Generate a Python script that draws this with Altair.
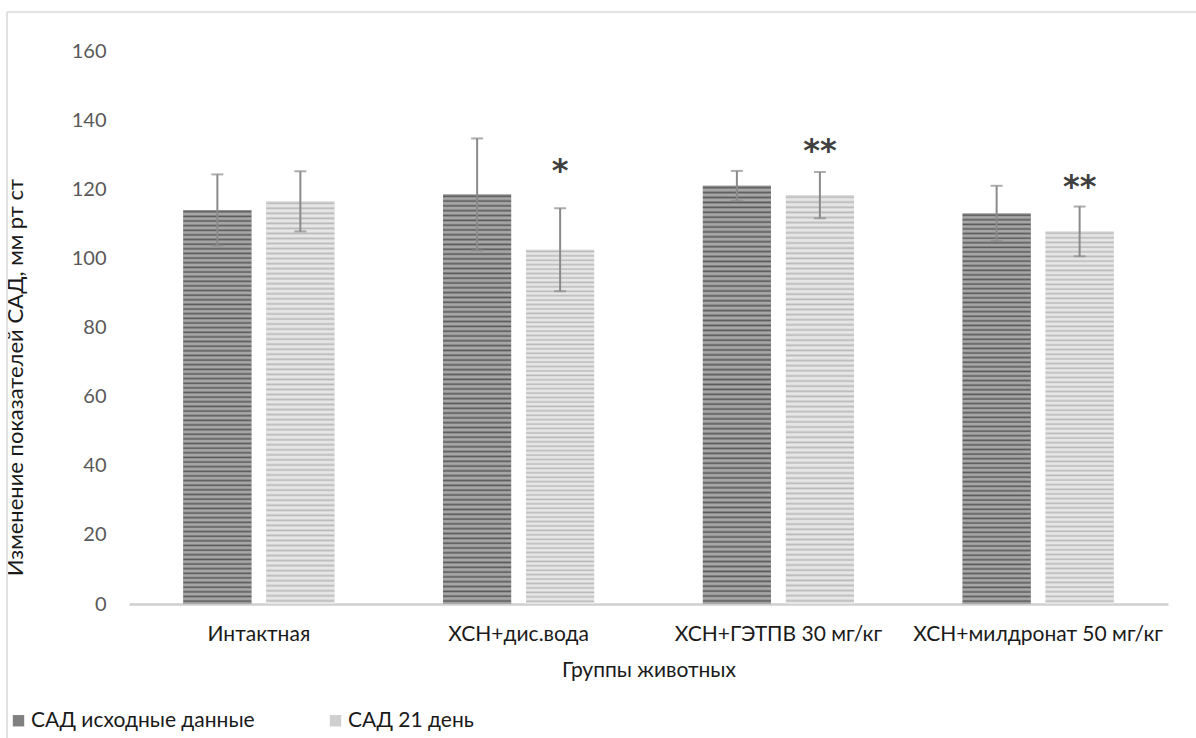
import altair as alt
import pandas as pd

# Groups of animals and the two measurement series
groups = ["Интактная", "ХСН+дис.вода", "ХСН+ГЭТПВ 30 мг/кг", "ХСН+милдронат 50 мг/кг"]
series = ["САД исходные данные", "САД 21 день"]

# Systolic blood pressure, mm Hg (mean and error)
sad_base = [114.0, 118.5, 121.0, 113.0]
sad_base_err = [10.3, 16.2, 4.3, 8.0]
sad_day21 = [116.5, 102.5, 118.3, 107.8]
sad_day21_err = [8.7, 12.0, 6.7, 7.2]

# Significance marks above the day-21 bars and their heights
sig_labels = ["", "*", "**", "**"]
sig_y = [0.0, 125.4, 131.1, 120.7]

y_ticks = [0, 20, 40, 60, 80, 100, 120, 140, 160]

rows = []
for g, v, e in zip(groups, sad_base, sad_base_err):
    rows.append({"group": g, "series": series[0], "value": v, "lo": v - e, "hi": v + e})
for g, v, e in zip(groups, sad_day21, sad_day21_err):
    rows.append({"group": g, "series": series[1], "value": v, "lo": v - e, "hi": v + e})
df = pd.DataFrame(rows)

sig_df = pd.DataFrame({
    "group": groups,
    "series": [series[1]] * len(groups),
    "label": sig_labels,
    "y": sig_y,
})
sig_df = sig_df[sig_df["label"] != ""]

FONT = "Lato"


def stripes(c_dark, c_light, n):
    stops = []
    for i in range(n):
        a = i / n
        stops += [
            alt.GradientStop(offset=a, color=c_light),
            alt.GradientStop(offset=a + 0.4 / n, color=c_dark),
            alt.GradientStop(offset=a + 0.7 / n, color=c_light),
        ]
    stops.append(alt.GradientStop(offset=1.0, color=c_light))
    return alt.LinearGradient(gradient="linear", stops=stops, x1=0, x2=0, y1=0, y2=1)


x_enc = alt.X(
    "group:N",
    sort=groups,
    title="Группы животных",
    scale=alt.Scale(paddingInner=0.4187, paddingOuter=0.2093),
    axis=alt.Axis(
        labelAngle=0,
        labelFontSize=21,
        labelLimit=0,
        labelColor="#1a1a1a",
        labelPadding=19,
        ticks=False,
        domainColor="#cfcfcf",
        domainWidth=2.5,
        titleFontSize=21,
        titleFontWeight="normal",
        titleColor="#1a1a1a",
        titlePadding=15,
    ),
)
xoff_enc = alt.XOffset(
    "series:N", sort=series, scale=alt.Scale(paddingInner=0.1807, paddingOuter=0)
)
y_scale = alt.Scale(domain=[0, 160], nice=False)

base = alt.Chart(df)

bars = base.mark_bar().encode(
    x=x_enc,
    xOffset=xoff_enc,
    y=alt.Y(
        "value:Q",
        scale=y_scale,
        title="Изменение показателей САД, мм рт ст",
        axis=alt.Axis(
            values=y_ticks,
            grid=False,
            domain=False,
            ticks=False,
            labelFontSize=20,
            labelColor="#595959",
            labelPadding=23,
            titleFontSize=22,
            titleFontWeight="normal",
            titleColor="#1a1a1a",
            titleX=-102,
            titleY=326,
        ),
    ),
    color=alt.Color(
        "series:N",
        sort=series,
        scale=alt.Scale(domain=series, range=["#808080", "#cfcfcf"]),
        legend=alt.Legend(
            title=None,
            orient="none",
            direction="horizontal",
            legendX=-121,
            legendY=659,
            symbolType="square",
            symbolSize=130,
            symbolStrokeWidth=0,
            labelFontSize=21,
            labelLimit=0,
            labelColor="#1a1a1a",
            labelOffset=2,
            columnPadding=70,
        ),
    ),
)

bars_base = base.transform_filter(alt.datum.series == series[0]).mark_bar(
    fill=stripes("#5a5a5a", "#a6a6a6", 85)
).encode(x=x_enc, xOffset=xoff_enc, y=alt.Y("value:Q", scale=y_scale))

bars_day21 = base.transform_filter(alt.datum.series == series[1]).mark_bar(
    fill=stripes("#bababa", "#e6e6e6", 80)
).encode(x=x_enc, xOffset=xoff_enc, y=alt.Y("value:Q", scale=y_scale))

err_rule = base.mark_rule(color="#8a8a8a", strokeWidth=2).encode(
    x=x_enc, xOffset=xoff_enc, y=alt.Y("lo:Q", scale=y_scale), y2="hi:Q"
)
cap_hi = base.mark_tick(orient="horizontal", color="#8a8a8a", size=12, thickness=2).encode(
    x=x_enc, xOffset=xoff_enc, y=alt.Y("hi:Q", scale=y_scale)
)
cap_lo = base.mark_tick(orient="horizontal", color="#8a8a8a", size=12, thickness=2).encode(
    x=x_enc, xOffset=xoff_enc, y=alt.Y("lo:Q", scale=y_scale)
)

sig = alt.Chart(sig_df).mark_text(
    font="DejaVu Sans", fontSize=32, fontWeight="bold", color="#404040",
    baseline="middle", align="center"
).encode(
    x=x_enc, xOffset=xoff_enc, y=alt.Y("y:Q", scale=y_scale), text="label:N"
)

# thin outer frame (left and top edges)
frame_data = alt.Data(values=[{"k": 0}])
frame_top = alt.Chart(frame_data).mark_rule(color="#d9d9d9", strokeWidth=1.5).encode(
    x=alt.value(-122), x2=alt.value(1067), y=alt.value(-39)
)
frame_left = alt.Chart(frame_data).mark_rule(color="#d9d9d9", strokeWidth=1.5).encode(
    x=alt.value(-122), y=alt.value(-39), y2=alt.value(687)
)

chart = alt.layer(
    bars, bars_base, bars_day21, err_rule, cap_hi, cap_lo, sig, frame_top, frame_left
).properties(
    width=1039,
    height=553,
    autosize=alt.AutoSizeParams(type="none"),
    padding={"left": 129, "top": 51, "right": 28, "bottom": 134},
    background="white",
).configure(font=FONT).configure_view(stroke=None)

chart.save("out.html", embed_options={"renderer": "svg", "actions": False})
